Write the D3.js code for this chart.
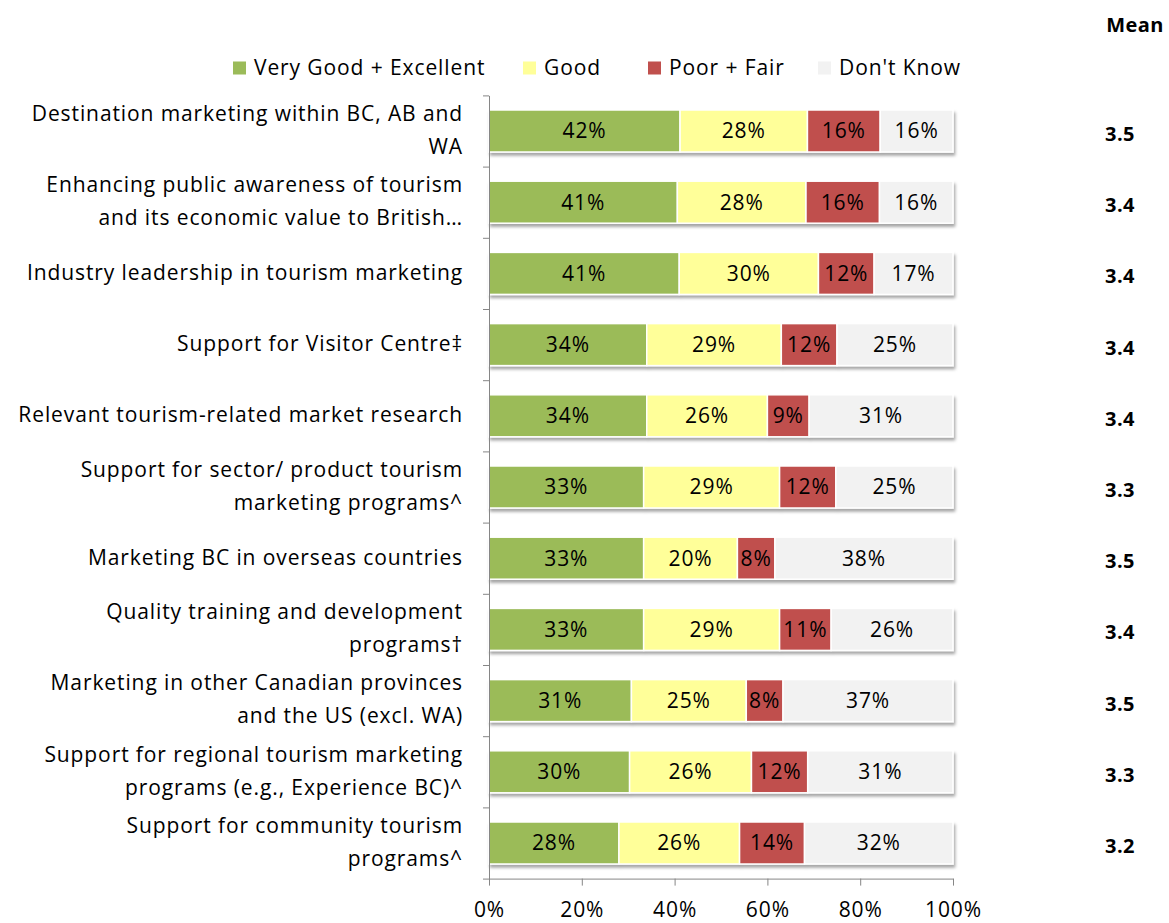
<!DOCTYPE html>
<html>
<head>
    <script src="https://cdnjs.cloudflare.com/ajax/libs/d3/7.8.5/d3.min.js"></script>
    <style>
        body {
            margin: 0;
            background: #ffffff;
            font-family: "Open Sans", sans-serif;
        }
        svg text {
            letter-spacing: 0.9px;
        }
        .axis path, .axis line {
            stroke: #868686;
        }
        .axis text {
            fill: #000;
            font-size: 21px;
            font-family: "Open Sans", sans-serif;
        }
    </style>
</head>
<body>
    <svg id="chart" width="1169" height="923"></svg>

    <script>
        const categories = [
            "Destination marketing within BC, AB and\nWA",
            "Enhancing public awareness of tourism\nand its economic value to British…",
            "Industry leadership in tourism marketing",
            "Support for Visitor Centre‡",
            "Relevant tourism-related market research",
            "Support for sector/ product tourism\nmarketing programs^",
            "Marketing BC in overseas countries",
            "Quality training and development\nprograms†",
            "Marketing in other Canadian provinces\nand the US (excl. WA)",
            "Support for regional tourism marketing\nprograms (e.g., Experience BC)^",
            "Support for community tourism\nprograms^"
        ];

        const seriesNames = ["Very Good + Excellent", "Good", "Poor + Fair", "Don't Know"];
        const seriesColors = ["#9BBB59", "#FFFF99", "#C0504D", "#F2F2F2"];

        const veryGood = [42, 41, 41, 34, 34, 33, 33, 33, 31, 30, 28];
        const good     = [28, 28, 30, 29, 26, 29, 20, 29, 25, 26, 26];
        const poor     = [16, 16, 12, 12,  9, 12,  8, 11,  8, 12, 14];
        const dontKnow = [16, 16, 17, 25, 31, 25, 38, 26, 37, 31, 32];

        const means = [3.5, 3.4, 3.4, 3.4, 3.4, 3.3, 3.5, 3.4, 3.5, 3.3, 3.2];

        const xTicks = [0, 0.2, 0.4, 0.6, 0.8, 1];

        const rows = categories.map((c, i) => ({
            category: c,
            [seriesNames[0]]: veryGood[i],
            [seriesNames[1]]: good[i],
            [seriesNames[2]]: poor[i],
            [seriesNames[3]]: dontKnow[i]
        }));

        const svg = d3.select("#chart");

        const plot = { left: 489, right: 953, top: 95.4, bottom: 878.6 };

        const x = d3.scaleLinear().domain([0, 1]).range([plot.left, plot.right]);
        const y = d3.scaleBand()
            .domain(categories)
            .range([plot.top, plot.bottom])
            .paddingInner(0.41)
            .paddingOuter(0.205);

        const stacked = d3.stack()
            .keys(seriesNames)
            .offset(d3.stackOffsetExpand)(rows);

        // shadow like the Excel bars
        const defs = svg.append("defs");
        const f = defs.append("filter").attr("id", "shadow")
            .attr("x", "-5%").attr("y", "-20%").attr("width", "110%").attr("height", "150%");
        f.append("feDropShadow")
            .attr("dx", 1.5).attr("dy", 3)
            .attr("stdDeviation", 1.6)
            .attr("flood-color", "#000")
            .attr("flood-opacity", 0.35);

        // bars
        const layers = svg.append("g").attr("filter", "url(#shadow)")
            .selectAll("g")
            .data(stacked)
            .join("g")
            .attr("fill", (d, i) => seriesColors[i]);

        layers.selectAll("rect")
            .data(d => d)
            .join("rect")
            .attr("x", d => x(d[0]))
            .attr("y", d => y(d.data.category))
            .attr("width", d => x(d[1]) - x(d[0]))
            .attr("height", y.bandwidth())
            .attr("stroke", "#fff")
            .attr("stroke-width", 1.5);

        // segment labels
        stacked.forEach((layer, si) => {
            svg.append("g")
                .selectAll("text")
                .data(layer)
                .join("text")
                .attr("x", d => (x(d[0]) + x(d[1])) / 2)
                .attr("y", d => y(d.data.category) + y.bandwidth() / 2)
                .attr("dy", "0.35em")
                .attr("text-anchor", "middle")
                .style("font-size", "21px")
                .style("fill", "#000")
                .text(d => d.data[seriesNames[si]] + "%");
        });

        // y axis: ticks on category boundaries
        const yEdge = d3.scaleLinear().domain([0, categories.length]).range([plot.top, plot.bottom]);
        svg.append("g")
            .attr("class", "axis")
            .attr("transform", `translate(${plot.left},0)`)
            .call(d3.axisLeft(yEdge)
                .tickValues(d3.range(categories.length + 1))
                .tickSize(6)
                .tickSizeOuter(0)
                .tickFormat(""));

        // x axis
        svg.append("g")
            .attr("class", "axis")
            .attr("transform", `translate(0,${plot.bottom})`)
            .call(d3.axisBottom(x)
                .tickValues(xTicks)
                .tickSize(7)
                .tickSizeOuter(0)
                .tickPadding(16)
                .tickFormat(d3.format(".0%")));

        // category labels
        const catLabels = svg.append("g")
            .selectAll("text")
            .data(categories)
            .join("text")
            .attr("text-anchor", "end")
            .style("font-size", "21px")
            .style("fill", "#000")
            .attr("transform", d => `translate(463,${y(d) + y.bandwidth() / 2 - 1})`);

        catLabels.each(function(d) {
            const lines = d.split("\n");
            const lh = 33;
            const t = d3.select(this);
            lines.forEach((line, i) => {
                t.append("tspan")
                    .attr("x", 0)
                    .attr("y", (i - (lines.length - 1) / 2) * lh)
                    .attr("dy", "0.35em")
                    .text(line);
            });
        });

        // legend
        const legendX = [233, 523, 648, 818];
        const legend = svg.append("g")
            .selectAll("g")
            .data(seriesNames)
            .join("g")
            .attr("transform", (d, i) => `translate(${legendX[i]},68)`);
        legend.append("rect")
            .attr("x", 0).attr("y", -6.5)
            .attr("width", 13).attr("height", 13)
            .attr("fill", (d, i) => seriesColors[i]);
        legend.append("text")
            .attr("x", 21)
            .attr("dy", "0.35em")
            .style("font-size", "21px")
            .text(d => d);

        // mean column
        svg.append("text")
            .attr("x", 1135)
            .attr("y", 25)
            .attr("dy", "0.35em")
            .attr("text-anchor", "middle")
            .style("font-size", "20px")
            .style("font-weight", "bold")
            .style("letter-spacing", "0.4px")
            .text("Mean");

        svg.append("g")
            .selectAll("text")
            .data(means)
            .join("text")
            .attr("x", 1120)
            .attr("y", (d, i) => y(categories[i]) + y.bandwidth() / 2 + 3)
            .attr("dy", "0.35em")
            .attr("text-anchor", "middle")
            .style("font-size", "20px")
            .style("font-weight", "bold")
            .style("letter-spacing", "0.4px")
            .text(d => d.toFixed(1));
    </script>
</body>
</html>
